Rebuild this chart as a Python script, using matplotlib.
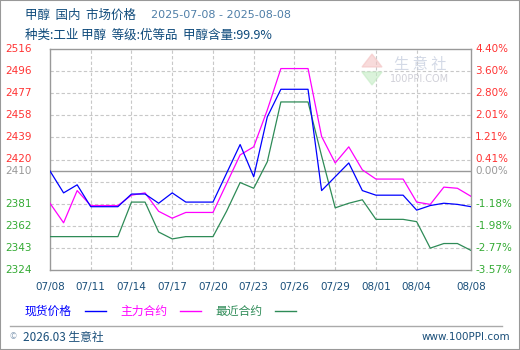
import numpy as np
import matplotlib
matplotlib.use('Agg')
import matplotlib.pyplot as plt
from matplotlib.patches import Rectangle, Polygon

plt.rcParams['font.family'] = ['Noto Sans CJK SC', 'DejaVu Sans']

# daily prices 07/08 .. 08/08 (yuan/ton)
spot = [2410, 2391, 2398, 2379, 2379, 2379, 2390, 2390, 2382, 2391, 2383, 2383, 2383, 2408, 2433, 2405,
        2457, 2481, 2481, 2481, 2393, 2405, 2417, 2393, 2389, 2389, 2389, 2376, 2380, 2382, 2381, 2379]
main = [2382, 2365, 2393, 2380, 2380, 2380, 2389, 2391, 2375, 2369, 2374, 2374, 2374, 2399, 2424, 2431,
        2463, 2499, 2499, 2499, 2440, 2417, 2431, 2411, 2403, 2403, 2403, 2383, 2381, 2396, 2395, 2388]
near = [2353, 2353, 2353, 2353, 2353, 2353, 2383, 2383, 2357, 2351, 2353, 2353, 2353, 2375, 2400, 2395,
        2418, 2470, 2470, 2470, 2423, 2378, 2382, 2385, 2368, 2368, 2368, 2366, 2343, 2347, 2347, 2341]

xtick_pos = [0, 3, 6, 9, 12, 15, 18, 21, 24, 27, 31]
xtick_labels = ['07/08', '07/11', '07/14', '07/17', '07/20', '07/23', '07/26', '07/29', '08/01', '08/04', '08/08']

base = 2410
ymin, ymax = 2324, 2516
left_labels = ['2516', '2496', '2477', '2458', '2439', '2420', '', '2381', '2362', '2343', '2324']
right_labels = ['4.40%', '3.60%', '2.80%', '2.01%', '1.21%', '0.41%', '', '-1.18%', '-1.98%', '-2.77%', '-3.57%']

W, H = 520, 350
fig = plt.figure(figsize=(W / 100, H / 100), dpi=100)
fig.patch.set_facecolor('white')

def fx(px):
    return px / W

def fy(py):
    return 1 - py / H

ax = fig.add_axes([fx(50), fy(270), fx(471) - fx(50), fy(49) - fy(270)])
x = np.arange(len(spot))
ax.set_xlim(0, len(spot) - 1)
ax.set_ylim(ymin, ymax)

yt = np.linspace(ymax, ymin, len(left_labels))
for v in yt[1:-1]:
    ax.axhline(v, color='#c8c8c8', lw=0.8, ls=(0, (3, 2)), zorder=1)
for p in xtick_pos[1:-1]:
    ax.axvline(p, color='#c8c8c8', lw=0.8, ls=(0, (3, 2)), zorder=1)
ax.axhline(base, color='#999999', lw=1.0, zorder=2)

ax.plot(x, near, color='#2e8b57', lw=0.9, zorder=3)
ax.plot(x, main, color='#ff00ff', lw=0.9, zorder=4)
ax.plot(x, spot, color='#0000ff', lw=0.9, zorder=5)

for s in ax.spines.values():
    s.set_color('#999999')
    s.set_linewidth(1.0)
ax.set_xticks([])
ax.set_yticks([])

# y tick labels, left and right
def ypix(v):
    return 49 + (ymax - v) * 221 / (ymax - ymin)

for v, ll, rl in zip(yt, left_labels, right_labels):
    if not ll:
        continue
    c = '#ff3333' if v > base else '#33aa33'
    fig.text(fx(5), fy(ypix(v)), ll, color=c, fontsize=7.5, family='DejaVu Sans', va='center', ha='left')
    fig.text(fx(475), fy(ypix(v)), rl, color=c, fontsize=7.5, family='DejaVu Sans', va='center', ha='left')
fig.text(fx(5), fy(ypix(base)), str(base), color='#999999', fontsize=7.5, family='DejaVu Sans', va='center')
fig.text(fx(475), fy(ypix(base)), '0.00%', color='#999999', fontsize=7.5, family='DejaVu Sans', va='center')

# x tick labels
for p, lab in zip(xtick_pos, xtick_labels):
    px = 50 + p * 421 / (len(spot) - 1)
    fig.text(fx(px), fy(287), lab, color='#1a4f7a', fontsize=7.5, family='DejaVu Sans',
             ha='center', va='center')

# titles
fig.text(fx(25), fy(15), '甲醇  国内  市场价格', color='#0e4a7b', fontsize=9, va='center')
fig.text(fx(151), fy(15), '2025-07-08 - 2025-08-08', color='#4f7fa8', fontsize=8, va='center',
         family='DejaVu Sans')
fig.text(fx(25), fy(35), '种类:工业 甲醇  等级:优等品  甲醇含量:99.9%', color='#0e4a7b', fontsize=9,
         va='center')

# watermark
fig.patches.append(Polygon([[fx(362), fy(67)], [fx(372), fy(54)], [fx(382), fy(67)]],
                           closed=True, color='#f4c4c4', alpha=0.6, transform=fig.transFigure))
fig.patches.append(Polygon([[fx(362), fy(72)], [fx(372), fy(85)], [fx(382), fy(72)]],
                           closed=True, color='#c4ecc4', alpha=0.6, transform=fig.transFigure))
fig.text(fx(420), fy(64), '生 意 社', color='#c8d0e0', fontsize=11, ha='center', va='center', alpha=0.8)
fig.text(fx(420), fy(79), '100PPI.COM', color='#d0d0d8', fontsize=7, ha='center', va='center',
         family='DejaVu Sans')

# legend
items = [('现货价格', '#0000ff', 25), ('主力合约', '#ff00ff', 120), ('最近合约', '#2e8b57', 215)]
for lab, c, px in items:
    fig.text(fx(px), fy(311), lab, color=c, fontsize=8.5, va='center')
    fig.add_artist(plt.Line2D([fx(px + 60), fx(px + 81)], [fy(311), fy(311)], color=c, lw=1.0))

# footer
fig.add_artist(plt.Line2D([fx(10), fx(502)], [fy(326), fy(326)], color='#aaaaaa', lw=1.0))
fig.text(fx(10), fy(337), '©', color='#8aa0b8', fontsize=6, va='center')
fig.text(fx(23), fy(337), '2026.03 生意社', color='#1a4f7a', fontsize=8.5, va='center')
fig.text(fx(510), fy(337), 'www.100PPI.com', color='#1a4f7a', fontsize=7.5, va='center', ha='right',
         family='DejaVu Sans')

fig.patches.append(Rectangle((0, 0), 1, 1, transform=fig.transFigure, fill=False,
                             edgecolor='#999999', lw=1.5))

fig.savefig('out.png', dpi=100)
